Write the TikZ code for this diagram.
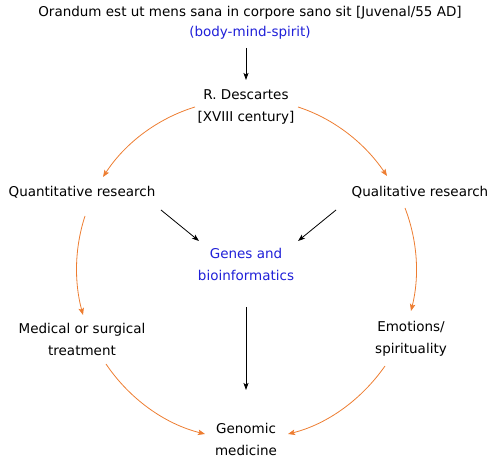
\documentclass[tikz,border=0pt]{standalone}
\usepackage{fontspec}
\setmainfont{DejaVu Sans}
\usetikzlibrary{arrows.meta}
\definecolor{arcorange}{HTML}{ED7D31}
\definecolor{txtblue}{HTML}{2020D8}
\begin{document}
\begin{tikzpicture}[x=1pt,y=1pt,
  lbl/.style={inner sep=0pt,align=center,font=\fontsize{13.5}{22}\selectfont},
  blk/.style={draw=black,line width=0.8pt,-{Stealth[length=7pt,width=5pt,inset=1.5pt]}},
  orn/.style={draw=arcorange,line width=0.8pt,looseness=0.88,-{Stealth[length=7pt,width=5.5pt,inset=1.5pt]}}]
\useasboundingbox (0,0) rectangle (492,460);
\node[lbl] (top) at (250,447) {Orandum est ut mens sana in corpore sano sit [Juvenal/55 AD]};
\node[lbl,text=txtblue] (body) at (250,427) {(body-mind-spirit)};
\node[lbl] (desc) at (246,353) {R. Descartes\\\relax [XVIII century]};
\node[lbl] (quant) at (82,268) {Quantitative research};
\node[lbl] (qual) at (420,268) {Qualitative research};
\node[lbl,text=txtblue] (genes) at (246,196) {Genes and\\bioinformatics};
\node[lbl] (med) at (82,121) {Medical or surgical\\treatment};
\node[lbl] (emo) at (411,121) {Emotions/\\spirituality};
\node[lbl] (gm) at (246,21) {Genomic\\medicine};
% black arrows
\draw[blk] ([shift={(-4,-15)}]body.center) -- ([shift={(0,27)}]desc.center);
\draw[blk] ([shift={(79,-18)}]quant.center) -- ([shift={(-47,23)}]genes.center);
\draw[blk] ([shift={(-84,-18)}]qual.center) -- ([shift={(52,23)}]genes.center);
\draw[blk] ([shift={(0,-43)}]genes.center) -- ([shift={(0,49)}]gm.center);
% orange arcs (parts of one circle)
\draw[orn] ([shift={(-51,0)}]desc.center) to[out=197,in=57] ([shift={(21,15)}]quant.center);
\draw[orn] ([shift={(52,0)}]desc.center) to[out=-18,in=124] ([shift={(-33,16)}]qual.center);
\draw[orn] ([shift={(3,-24)}]quant.center) to[out=-108,in=105] ([shift={(1,24)}]med.center);
\draw[orn] ([shift={(-15,-16)}]qual.center) to[out=-69,in=76] ([shift={(0,28)}]emo.center);
\draw[orn] ([shift={(24,-25)}]med.center) to[out=-56,in=166] ([shift={(-41,5)}]gm.center);
\draw[orn] ([shift={(-26,-27)}]emo.center) to[out=-125,in=14] ([shift={(42,5)}]gm.center);
\end{tikzpicture}
\end{document}
